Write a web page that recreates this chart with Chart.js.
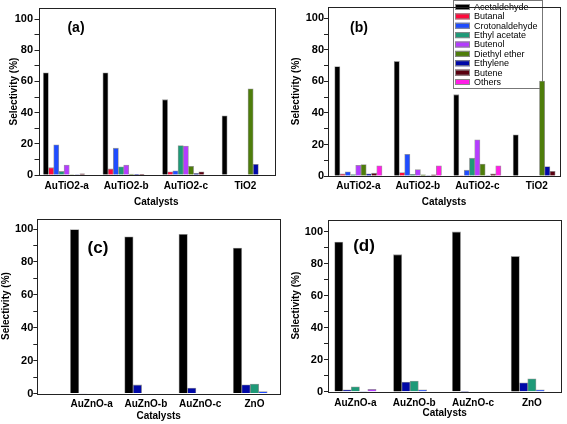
<!DOCTYPE html>
<html>
<head>
<meta charset="utf-8">
<script src="https://cdn.jsdelivr.net/npm/chart.js@4/dist/chart.umd.min.js"></script>
<style>
  body { margin: 0; background: #fff; }
  #wrap { position: relative; width: 567px; height: 424px; overflow: hidden; }
  #wrap canvas { position: absolute; }
</style>
</head>
<body>
<div id="wrap">
  <canvas id="chartA" width="283" height="212" style="left:0;top:0"></canvas>
  <canvas id="chartB" width="284" height="212" style="left:283px;top:0"></canvas>
  <canvas id="chartC" width="283" height="212" style="left:0;top:212px"></canvas>
  <canvas id="chartD" width="284" height="212" style="left:283px;top:212px"></canvas>
</div>
<script>
// categories
const tioCatalysts = ['AuTiO2-a', 'AuTiO2-b', 'AuTiO2-c', 'TiO2'];
const znoCatalysts = ['AuZnO-a', 'AuZnO-b', 'AuZnO-c', 'ZnO'];

// series names
const tioSeries = ['Acetaldehyde', 'Butanal', 'Crotonaldehyde', 'Ethyl acetate', 'Butenol',
                   'Diethyl ether', 'Ethylene', 'Butene', 'Others'];
const znoSeries = ['Acetaldehyde', 'Ethylene', 'Ethyl acetate', 'Crotonaldehyde', 'Butenol'];

// y ticks
const yTickLabels = [0, 20, 40, 60, 80, 100];

// panel (a) - one row per series, in tioSeries order
const valuesA = [
    [65.5, 65.5, 48.3, 38.0],
    [4.7, 3.9, 2.0, 0],
    [19.3, 17.2, 2.7, 0],
    [2.3, 5.2, 18.9, 0],
    [6.4, 6.4, 18.5, 0],
    [0.3, 0.6, 5.6, 55.2],
    [0.3, 0.4, 1.0, 6.8],
    [0.8, 0.4, 2.0, 0],
    [0, 0, 0, 0]
];

// panel (b)
const valuesB = [
    [69.5, 72.7, 51.6, 26.2],
    [1.3, 2.2, 0.3, 0],
    [2.7, 13.8, 3.7, 0],
    [0.9, 1.0, 11.3, 0],
    [6.8, 4.1, 23.0, 0],
    [7.2, 0.8, 7.6, 60.2],
    [1.4, 0.3, 0.3, 6.0],
    [1.8, 0.8, 1.3, 3.0],
    [6.5, 6.5, 6.5, 0]
];

// panel (c) - in znoSeries order
const valuesC = [
    [99.7, 95.3, 96.8, 88.5],
    [0.3, 5.2, 3.3, 5.3],
    [0, 0, 0, 5.8],
    [0, 0, 0, 1.2],
    [0, 0, 0, 0]
];

// panel (d)
const valuesD = [
    [93.5, 85.6, 99.8, 84.5],
    [1.1, 6.0, 0.2, 5.6],
    [3.0, 6.7, 0, 8.0],
    [0.3, 1.2, 0, 1.2],
    [1.5, 0, 0, 0]
];

const seriesColors = {
    'Acetaldehyde': '#000000',
    'Butanal': '#ff0a3c',
    'Crotonaldehyde': '#1f4cff',
    'Ethyl acetate': '#1e9a78',
    'Butenol': '#b43cff',
    'Diethyl ether': '#4e7d0a',
    'Ethylene': '#0008a8',
    'Butene': '#5a0010',
    'Others': '#ff1ee6'
};

const FONT = '"Liberation Sans", Arial, sans-serif';
Chart.defaults.font.family = FONT;
Chart.defaults.color = '#000';

// frame round the plot + panel letter
const framePlugin = {
    id: 'frame',
    afterDraw(chart, args, opts) {
        const { ctx, chartArea: a } = chart;
        ctx.save();
        ctx.strokeStyle = '#222';
        ctx.lineWidth = 1;
        ctx.strokeRect(Math.round(a.left) + 0.5, Math.round(a.top) + 0.5,
                       Math.round(a.right - a.left), Math.round(a.bottom - a.top));
        ctx.fillStyle = '#000';
        ctx.font = 'bold ' + opts.tagSize + 'px ' + FONT;
        ctx.textAlign = 'center';
        ctx.textBaseline = 'middle';
        ctx.fillText(opts.tag, opts.tagX, opts.tagY);
        ctx.restore();
    }
};

// legend box inside panel (b), drawn under the bars
const boxLegendPlugin = {
    id: 'boxLegend',
    beforeDatasetsDraw(chart, args, opts) {
        if (!opts.show) return;
        const ctx = chart.ctx;
        const x = opts.x, y = opts.y, w = opts.w, h = opts.h;
        ctx.save();
        ctx.fillStyle = '#fff';
        ctx.fillRect(x, y, w, h);
        ctx.strokeStyle = '#777';
        ctx.lineWidth = 1;
        ctx.strokeRect(x + 0.5, y + 0.5, w, h);
        ctx.font = '9px ' + FONT;
        ctx.textAlign = 'left';
        ctx.textBaseline = 'middle';
        chart.data.datasets.forEach((ds, i) => {
            const cy = y + 7 + i * 9.375;
            ctx.fillStyle = ds.backgroundColor;
            ctx.fillRect(x + 2, cy - 3, 15, 6);
            ctx.strokeStyle = '#888';
            ctx.strokeRect(x + 2.5, cy - 2.5, 14, 5);
            ctx.fillStyle = '#000';
            ctx.fillText(ds.label, x + 21, cy + 0.5);
        });
        ctx.restore();
    }
};

function createPanel(canvasId, cats, names, values, cfg) {
    const datasets = names.map((name, s) => ({
        label: name,
        data: values[s].map((v, i) => ({ x: i + 1, y: v })),
        backgroundColor: seriesColors[name],
        borderColor: 'rgba(120,120,120,0.75)',
        borderWidth: 0.8,
        barThickness: cfg.barWidth
    }));

    return new Chart(document.getElementById(canvasId), {
        type: 'bar',
        data: { datasets: datasets },
        plugins: [framePlugin, boxLegendPlugin],
        options: {
            responsive: false,
            animation: false,
            devicePixelRatio: 1,
            layout: { padding: { top: cfg.padTop, right: cfg.padRight, left: 0, bottom: 0 } },
            plugins: {
                legend: { display: false },
                tooltip: { enabled: false },
                frame: { tag: cfg.tag, tagX: cfg.tagX, tagY: cfg.tagY, tagSize: cfg.tagSize },
                boxLegend: cfg.legend || { show: false }
            },
            scales: {
                x: {
                    type: 'linear',
                    offset: false,
                    min: cfg.xMin,
                    max: cfg.xMax,
                    afterBuildTicks: scale => {
                        scale.ticks = cats.map((c, i) => ({ value: i + 1 }));
                    },
                    afterFit: scale => { scale.height = cfg.xHeight; },
                    grid: { display: false, drawTicks: false },
                    border: { display: false },
                    ticks: {
                        autoSkip: false,
                        maxRotation: 0,
                        padding: cfg.xTickPad,
                        font: { size: 10, weight: 'bold' },
                        callback: v => cats[v - 1] || ''
                    },
                    title: {
                        display: true,
                        text: 'Catalysts',
                        font: { size: 10, weight: 'bold' },
                        padding: { top: 0, bottom: cfg.xTitlePad }
                    }
                },
                y: {
                    min: 0,
                    max: cfg.yMax,
                    afterFit: scale => { scale.width = cfg.yWidth; },
                    grid: {
                        display: true,
                        drawOnChartArea: false,
                        drawTicks: true,
                        tickLength: 4,
                        tickColor: '#222'
                    },
                    border: { display: false },
                    ticks: {
                        stepSize: 10,
                        includeBounds: false,
                        padding: cfg.yTickPad,
                        font: { size: 11, weight: 'bold' },
                        callback: v => yTickLabels.includes(v) ? v : ''
                    },
                    title: {
                        display: true,
                        text: 'Selectivity (%)',
                        font: { size: 10, weight: 'bold' },
                        padding: { top: cfg.yTitlePad, bottom: 0 }
                    }
                }
            }
        }
    });
}

createPanel('chartA', tioCatalysts, tioSeries, valuesA, {
    barWidth: 5.2, xMin: 0.527, xMax: 4.48, yMax: 107,
    padTop: 1, padRight: 9, yWidth: 38.5, xHeight: 37,
    xTickPad: 5, xTitlePad: 4, yTickPad: 1.5, yTitlePad: 8,
    tag: '(a)', tagX: 76, tagY: 28, tagSize: 14
});

createPanel('chartB', tioCatalysts, tioSeries, valuesB, {
    barWidth: 5.26, xMin: 0.49, xMax: 4.39, yMax: 107.5,
    padTop: 1, padRight: 7, yWidth: 45, xHeight: 36,
    xTickPad: 4.5, xTitlePad: 3.5, yTickPad: 0, yTitlePad: 7,
    tag: '(b)', tagX: 76, tagY: 28, tagSize: 14,
    legend: { show: true, x: 170, y: 0, w: 89, h: 88 }
});

createPanel('chartC', znoCatalysts, znoSeries, valuesC, {
    barWidth: 8.5, xMin: 0, xMax: 4.47, yMax: 106.4,
    padTop: 3, padRight: 3, yWidth: 37.3, xHeight: 30.5,
    xTickPad: 5, xTitlePad: 1.3, yTickPad: 0, yTitlePad: 0,
    tag: '(c)', tagX: 98, tagY: 36, tagSize: 17
});

createPanel('chartD', znoCatalysts, znoSeries, valuesD, {
    barWidth: 8.3, xMin: 0.535, xMax: 4.5, yMax: 107.5,
    padTop: 3, padRight: 5.7, yWidth: 45, xHeight: 32.3,
    xTickPad: 5.5, xTitlePad: 4.5, yTickPad: 1, yTitlePad: 7,
    tag: '(d)', tagX: 81, tagY: 34, tagSize: 17
});
</script>
</body>
</html>
